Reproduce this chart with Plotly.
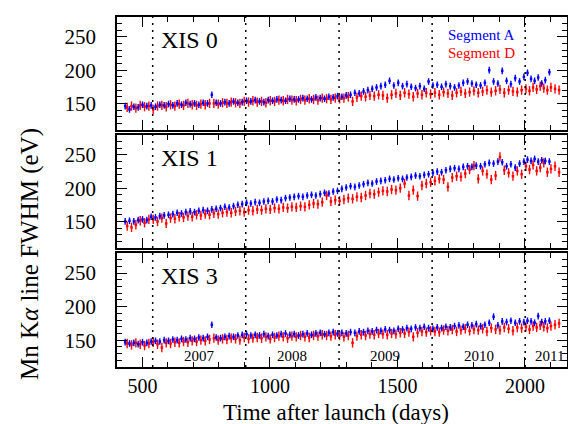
import plotly.graph_objects as go

# Observation epochs (days after launch) for the two segments
days_A = [
    432, 449, 466, 483, 500, 517, 534, 551, 568, 585,
    602, 619, 636, 653, 670, 687, 704, 721, 738, 755,
    772, 789, 806, 823, 840, 857, 874, 891, 908, 925,
    942, 959, 976, 993, 1010, 1027, 1044, 1061, 1078, 1095,
    1112, 1129, 1146, 1163, 1180, 1197, 1214, 1231, 1248, 1265,
    1282, 1299, 1316, 1333, 1350, 1367, 1384, 1401, 1418, 1435,
    1452, 1469, 1486, 1503, 1520, 1537, 1554, 1571, 1588, 1605,
    1622, 1639, 1656, 1673, 1690, 1707, 1724, 1741, 1758, 1775,
    1792, 1809, 1826, 1843, 1860, 1877, 1894, 1911, 1928, 1945,
    1962, 1979, 1996, 2010, 2024, 2038, 2052, 2066, 2080, 2096,
]
days_D = [
    440, 457, 474, 491, 508, 525, 542, 559, 576, 593,
    610, 627, 644, 661, 678, 695, 712, 729, 746, 763,
    780, 797, 814, 831, 848, 865, 882, 899, 916, 933,
    950, 967, 984, 1001, 1018, 1035, 1052, 1069, 1086, 1103,
    1120, 1137, 1154, 1171, 1188, 1205, 1222, 1239, 1256, 1273,
    1290, 1307, 1324, 1341, 1358, 1375, 1392, 1409, 1426, 1443,
    1460, 1477, 1494, 1511, 1528, 1545, 1562, 1579, 1596, 1613,
    1630, 1647, 1664, 1681, 1698, 1715, 1732, 1749, 1766, 1783,
    1800, 1817, 1834, 1851, 1868, 1885, 1902, 1919, 1936, 1953,
    1970, 1987, 2004, 2018, 2032, 2046, 2060, 2074, 2088, 2102,
    2118, 2134,
]

# Mn K-alpha FWHM (eV)
xis0_A = [
    146, 141, 145, 144, 148, 146, 147, 145, 148, 147,
    149, 147, 150, 148, 151, 149, 150, 148, 151, 150,
    163, 151, 150, 152, 150, 153, 151, 152, 154, 153,
    155, 153, 152, 155, 154, 156, 155, 154, 157, 156,
    156, 158, 157, 156, 159, 158, 157, 160, 159, 161,
    160, 162, 163, 166, 165, 168, 170, 172, 174, 176,
    178, 184, 177, 181, 176, 179, 175, 173, 176, 172,
    183, 177, 178, 175, 179, 176, 174, 177, 181, 183,
    180, 178, 177, 181, 200, 183, 180, 199, 184, 179,
    188, 183, 190, 196, 187, 184, 189, 180, 185, 197,
]
xis0_D = [
    144, 146, 143, 147, 145, 146, 141, 146, 147, 145,
    148, 146, 149, 147, 150, 148, 147, 149, 148, 150,
    150, 149, 151, 150, 152, 151, 150, 153, 152, 154,
    152, 153, 151, 154, 153, 155, 154, 156, 155, 154,
    156, 155, 157, 156, 155, 158, 157, 156, 158, 157,
    158, 160, 153, 159, 161, 160, 162, 161, 163, 162,
    158, 163, 165, 162, 166, 164, 160, 165, 163, 166,
    164, 166, 163, 167, 165, 162, 166, 168, 165, 167,
    169, 166, 168, 170, 167, 169, 171, 166, 170, 168,
    167, 170, 172, 169, 174, 171, 176, 173, 170, 174,
    172, 170,
]
xis1_A = [
    150, 151, 150, 152, 153, 152, 157, 156, 158, 159,
    160, 161, 163, 162, 164, 165, 164, 166, 167, 166,
    168, 169, 170, 172, 171, 173, 175, 176, 178, 177,
    179, 178, 180, 181, 180, 183, 182, 185, 186, 187,
    188, 187, 189, 190, 189, 191, 193, 192, 195, 196,
    199, 201, 203, 202, 204, 206, 208, 207, 210, 211,
    212, 214, 213, 215, 214, 216, 217, 219, 218, 220,
    221, 223, 225, 224, 227, 229, 230, 229, 232, 233,
    232, 234, 233, 236, 238, 237, 240, 239, 233, 236,
    231, 237, 240, 243, 241, 244, 240, 242, 241, 240,
]
xis1_D = [
    143, 141, 145, 151, 148, 153, 153, 150, 155, 147,
    155, 154, 157, 156, 158, 157, 160, 159, 161, 160,
    162, 161, 163, 164, 163, 165, 166, 164, 167, 166,
    168, 167, 169, 168, 170, 169, 171, 170, 172, 171,
    173, 172, 175, 177, 176, 179, 189, 180, 182, 181,
    183, 185, 184, 187, 186, 189, 192, 191, 194, 196,
    195, 198, 197, 200, 207, 189, 197, 188, 204, 207,
    209, 211, 214, 213, 202, 216, 218, 217, 222, 228,
    234, 214, 226, 221, 213, 219, 247, 227, 223, 218,
    226, 221, 233, 228, 235, 226, 231, 238, 224, 229,
    233, 224,
]
xis3_A = [
    147, 145, 146, 144, 147, 146, 148, 149, 148, 150,
    149, 151, 150, 152, 151, 153, 152, 154, 153, 155,
    173, 154, 153, 155, 156, 155, 157, 158, 159, 157,
    158, 157, 159, 156, 158, 157, 159, 160, 158, 159,
    157, 159, 160, 158, 160, 161, 159, 161, 162, 160,
    161, 160, 162, 161, 163, 162, 164, 163, 165, 164,
    166, 165, 164, 167, 166, 168, 167, 169, 168, 170,
    168, 167, 169, 168, 170, 169, 171, 172, 170, 173,
    172, 174, 171, 173, 176, 185, 172, 178, 177, 179,
    176, 178, 177, 179, 178, 176, 186, 177, 178, 179,
]
xis3_D = [
    145, 143, 146, 144, 142, 145, 147, 144, 139, 146,
    145, 147, 146, 148, 147, 149, 148, 150, 149, 151,
    153, 150, 152, 151, 153, 152, 150, 154, 152, 153,
    154, 153, 155, 152, 154, 156, 155, 153, 156, 155,
    157, 155, 154, 157, 156, 158, 157, 156, 158, 157,
    155, 157, 146, 156, 158, 157, 159, 158, 160, 159,
    158, 160, 159, 161, 160, 162, 155, 161, 163, 162,
    164, 163, 162, 165, 164, 166, 163, 165, 167, 164,
    166, 165, 167, 163, 168, 166, 165, 169, 167, 164,
    169, 168, 170, 166, 171, 169, 172, 170, 168, 171,
    173, 175,
]
err_A = 5.0
err_D = 7.0

detectors = ["XIS 0", "XIS 1", "XIS 3"]
series_A = [xis0_A, xis1_A, xis3_A]
series_D = [xis0_D, xis1_D, xis3_D]

year_starts = [540, 905, 1271, 1636, 2001]
year_names = ["2007", "2008", "2009", "2010", "2011"]
year_label_pos = [722, 1088, 1453, 1818, 2095]

BLUE = "#0000ff"
RED = "#ff0000"
FONT = "Liberation Serif, Times New Roman, serif"

W, H = 568, 424
x_dom = [117 / W, 567 / W]
panel_px = [(17, 130), (135, 248), (253, 367)]
y_doms = [[1 - b / H, 1 - t / H] for t, b in panel_px]

fig = go.Figure()

for i in range(3):
    sfx = "" if i == 0 else str(i + 1)
    for days, vals, col, err in ((days_D, series_D[i], RED, err_D),
                                 (days_A, series_A[i], BLUE, err_A)):
        fig.add_trace(go.Scatter(
            x=days, y=vals, mode="markers",
            xaxis="x" + sfx, yaxis="y" + sfx,
            marker=dict(symbol="square", size=2.5, color=col, line=dict(width=0)),
            error_y=dict(type="constant", value=err, color=col,
                         thickness=1.4, width=0),
            showlegend=False, hoverinfo="skip",
        ))

axis_common = dict(
    showline=True, linecolor="black", linewidth=1.5, mirror="ticks",
    ticks="inside", ticklen=10, tickwidth=1.3, tickcolor="black",
    showgrid=False, zeroline=False,
    tickfont=dict(family=FONT, size=21, color="black"),
)

for i in range(3):
    sfx = "" if i == 0 else str(i + 1)
    fig.layout["xaxis" + sfx] = dict(
        axis_common, domain=x_dom, anchor="y" + sfx,
        range=[400, 2165], tickmode="linear", tick0=500, dtick=500,
        minor=dict(dtick=100, tick0=0, ticks="inside", ticklen=5,
                   tickcolor="black", tickwidth=1.1, showgrid=False),
        showticklabels=(i == 2), ticklabelstandoff=0,
        tickfont=dict(family=FONT, size=20, color="black"),
    )
    fig.layout["yaxis" + sfx] = dict(
        axis_common, domain=y_doms[i], anchor="x" + sfx,
        range=[110, 280], tickvals=[150, 200, 250],
        minor=dict(dtick=10, tick0=0, ticks="inside", ticklen=5,
                   tickcolor="black", tickwidth=1.1, showgrid=False),
        ticklabelstandoff=15,
    )
    for d in year_starts:
        fig.add_shape(type="line", xref="x" + sfx, yref="y" + sfx + " domain",
                      x0=d, x1=d, y0=0, y1=1,
                      line=dict(color="black", width=1.5, dash="2px,5px"))
    fig.add_annotation(text=detectors[i], xref="paper", yref="y" + sfx + " domain",
                       x=159 / W, y=0.80, xanchor="left", yanchor="middle",
                       showarrow=False, font=dict(family=FONT, size=24, color="black"))

for name, pos in zip(year_names, year_label_pos):
    fig.add_annotation(text=name, xref="x3", yref="y3 domain", x=pos, y=0.1,
                       xanchor="center", yanchor="middle", showarrow=False,
                       font=dict(family=FONT, size=15, color="black"))

fig.add_annotation(text="Segment A", xref="paper", yref="paper",
                   x=446 / W, y=1 - 35 / H, xanchor="left", yanchor="middle",
                   showarrow=False, font=dict(family=FONT, size=15, color=BLUE))
fig.add_annotation(text="Segment D", xref="paper", yref="paper",
                   x=446 / W, y=1 - 53 / H, xanchor="left", yanchor="middle",
                   showarrow=False, font=dict(family=FONT, size=15, color=RED))

fig.add_annotation(text="Time after launch (days)", xref="paper", yref="paper",
                   x=336 / W, y=0, yshift=-2, xanchor="center", yanchor="bottom",
                   showarrow=False, font=dict(family=FONT, size=23, color="black"),
                   borderpad=0)
fig.add_annotation(text="Mn K<i>α</i> line FWHM (eV)", xref="paper", yref="paper",
                   x=30 / W, y=1 - 254 / H, xanchor="center", yanchor="middle",
                   textangle=-90, showarrow=False,
                   font=dict(family=FONT, size=25, color="black"))

fig.update_layout(
    width=W, height=H, margin=dict(l=0, r=0, t=0, b=0),
    paper_bgcolor="white", plot_bgcolor="white",
)

fig.write_html("out.html")
